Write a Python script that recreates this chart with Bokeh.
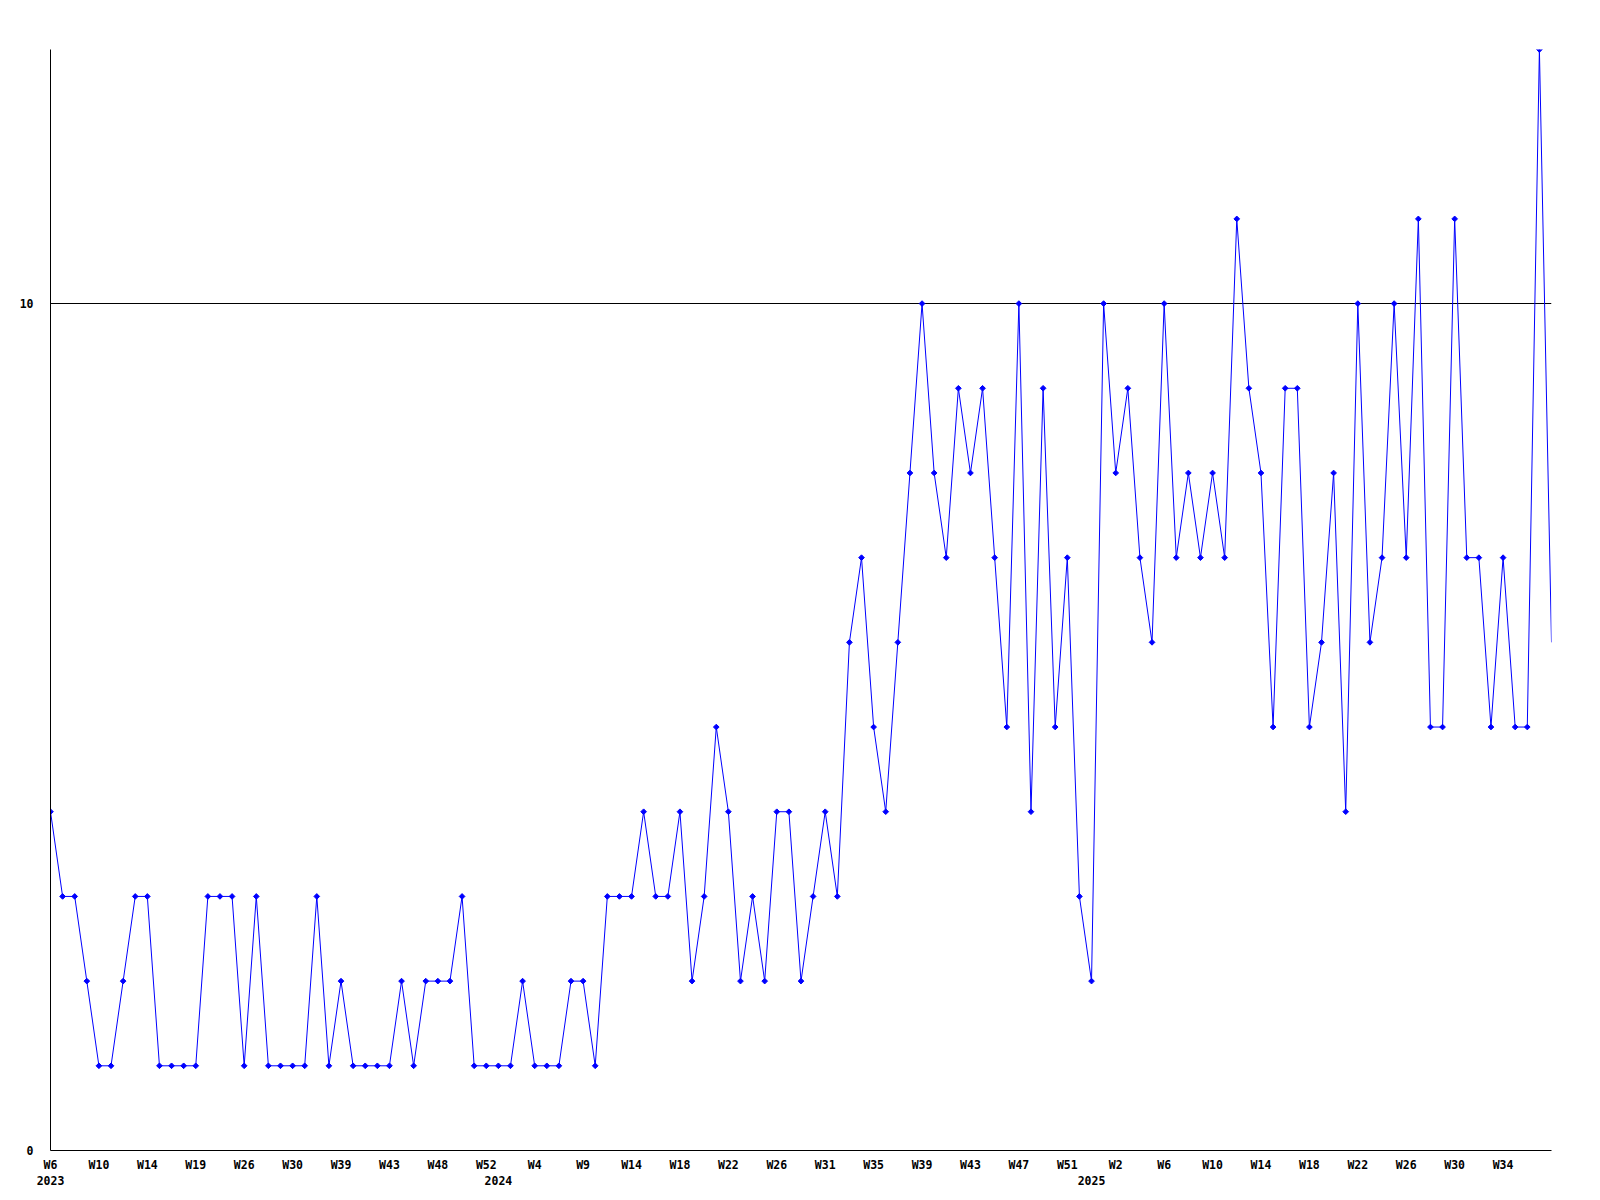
from bokeh.plotting import figure
from bokeh.models import Range1d, FixedTicker, LinearAxis
from bokeh.embed import file_html
from bokeh.resources import INLINE
import math

# Weekly counts (one value per week shown on the chart)
values = [4, 3, 3, 2, 1, 1, 2, 3, 3, 1,
          1, 1, 1, 3, 3, 3, 1, 3, 1, 1,
          1, 1, 3, 1, 2, 1, 1, 1, 1, 2,
          1, 2, 2, 2, 3, 1, 1, 1, 1, 2,
          1, 1, 1, 2, 2, 1, 3, 3, 3, 4,
          3, 3, 4, 2, 3, 5, 4, 2, 3, 2,
          4, 4, 2, 3, 4, 3, 6, 7, 5, 4,
          6, 8, 10, 8, 7, 9, 8, 9, 7, 5,
          10, 4, 9, 5, 7, 3, 2, 10, 8, 9,
          7, 6, 10, 7, 8, 7, 8, 7, 11, 9,
          8, 5, 9, 9, 5, 6, 8, 4, 10, 6,
          7, 10, 7, 11, 5, 5, 11, 7, 7, 5,
          7, 5, 5, 13, 6]
x_index = list(range(len(values)))

# Week tick labels (every 4th week)
week_labels = ["W6", "W10", "W14", "W19", "W26", "W30", "W39", "W43", "W48", "W52",
               "W4", "W9", "W14", "W18", "W22", "W26", "W31", "W35", "W39", "W43",
               "W47", "W51", "W2", "W6", "W10", "W14", "W18", "W22", "W26", "W30", "W34"]
week_label_step = 4

# Year labels and the index of the first week of each year
year_labels = ["2023", "2024", "2025"]
year_index = [0, 37, 86]

# y ticks
y_ticks = [0, 10]
y_max = 13

FONT = "DejaVu Sans Mono"
FSIZE = "11.5px"

p = figure(width=1580, height=1190, output_backend="svg", toolbar_location=None,
           x_range=Range1d(0, len(values) - 1), y_range=Range1d(0, y_max),
           min_border_left=50, min_border_top=49, min_border_right=29, min_border_bottom=40)
p.outline_line_color = None
p.background_fill_color = "white"
p.border_fill_color = "white"

p.line(x_index, values, line_color="#0000ff", line_width=1)
p.scatter(x_index[:-1], values[:-1], marker="square", angle=math.pi / 4, size=4,
          fill_color="#0000ff", line_color="#0000ff", line_width=1)

# x axis: week labels
week_ticks = [i * week_label_step for i in range(len(week_labels))]
xa = p.xaxis[0]
xa.ticker = FixedTicker(ticks=week_ticks)
xa.major_label_overrides = {t: lab for t, lab in zip(week_ticks, week_labels)}
xa.major_tick_out = 0
xa.major_tick_in = 0
xa.minor_tick_out = 0
xa.minor_tick_in = 0
xa.axis_line_color = "black"
xa.axis_line_width = 1
xa.major_label_standoff = 7
xa.major_label_text_font = FONT
xa.major_label_text_font_size = FSIZE
xa.major_label_text_font_style = "bold"
xa.major_label_text_color = "black"

# second axis: year labels
ya2 = LinearAxis(ticker=FixedTicker(ticks=year_index),
                 major_label_overrides={t: lab for t, lab in zip(year_index, year_labels)})
ya2.axis_line_color = None
ya2.major_tick_out = 0
ya2.major_tick_in = 0
ya2.minor_tick_out = 0
ya2.minor_tick_in = 0
ya2.major_label_standoff = 1
ya2.major_label_text_font = FONT
ya2.major_label_text_font_size = FSIZE
ya2.major_label_text_font_style = "bold"
ya2.major_label_text_color = "black"
p.add_layout(ya2, "below")

# y axis
yax = p.yaxis[0]
yax.ticker = FixedTicker(ticks=y_ticks)
yax.major_label_overrides = {t: str(t) for t in y_ticks}
yax.major_tick_out = 0
yax.major_tick_in = 0
yax.minor_tick_out = 0
yax.minor_tick_in = 0
yax.axis_line_color = "black"
yax.major_label_standoff = 17
yax.major_label_text_font = FONT
yax.major_label_text_font_size = FSIZE
yax.major_label_text_font_style = "bold"
yax.major_label_text_color = "black"

# grid: only horizontal line at the y ticks
p.xgrid.visible = False
p.ygrid.ticker = FixedTicker(ticks=y_ticks)
p.ygrid.grid_line_color = "black"
p.ygrid.grid_line_width = 1
p.ygrid.grid_line_alpha = 1.0

open("out.html", "w").write(file_html(p, INLINE))
